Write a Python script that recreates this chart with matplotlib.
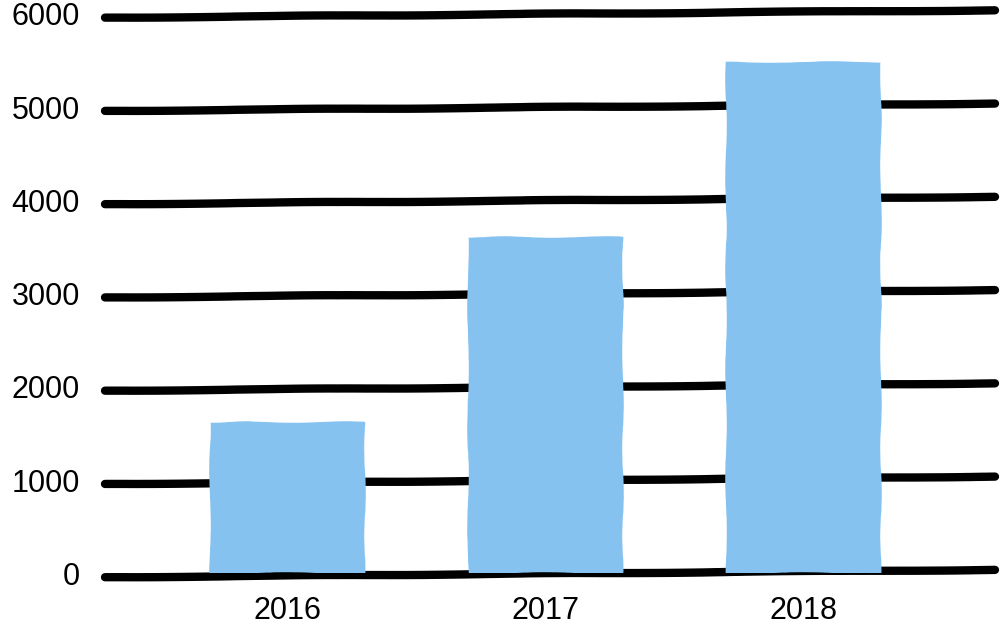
import matplotlib
matplotlib.use("Agg")
import matplotlib.pyplot as plt
import numpy as np

# data
years = ["2016", "2017", "2018"]
values = [1620, 3610, 5480]
yticks = [0, 1000, 2000, 3000, 4000, 5000, 6000]

plt.rcParams['font.family'] = ['Liberation Sans', 'DejaVu Sans']

fig = plt.figure(figsize=(10, 6.32), dpi=100)
ax = fig.add_axes([0.105, 0.0926, 0.89, 0.8854])

x = np.arange(len(years))
xmin, xmax = -0.705, 2.74
tilt = 40  # slight upward slope of the brush-stroke gridlines

# gridlines, hand drawn look
for v in yticks:
    ln, = ax.plot([xmin, xmax], [v - tilt, v + tilt], color='black', lw=6,
                  solid_capstyle='round', zorder=2, clip_on=False)
    ln.set_sketch_params(scale=0.4, length=400, randomness=5)

bars = ax.bar(x, values, width=0.6, color='#86C2F0', zorder=3)
for b in bars:
    b.set_sketch_params(scale=0.8, length=200, randomness=8)

ax.set_xlim(xmin, xmax)
ax.set_ylim(0, 6000)
ax.set_xticks(x)
ax.set_xticklabels(years, fontsize=22)
ax.set_yticks(yticks)
ax.set_yticklabels([str(v) for v in yticks], fontsize=22)
ax.tick_params(axis='y', length=0, pad=18)
ax.tick_params(axis='x', length=0, pad=16)
for s in ax.spines.values():
    s.set_visible(False)

fig.savefig("out.png", dpi=100)
